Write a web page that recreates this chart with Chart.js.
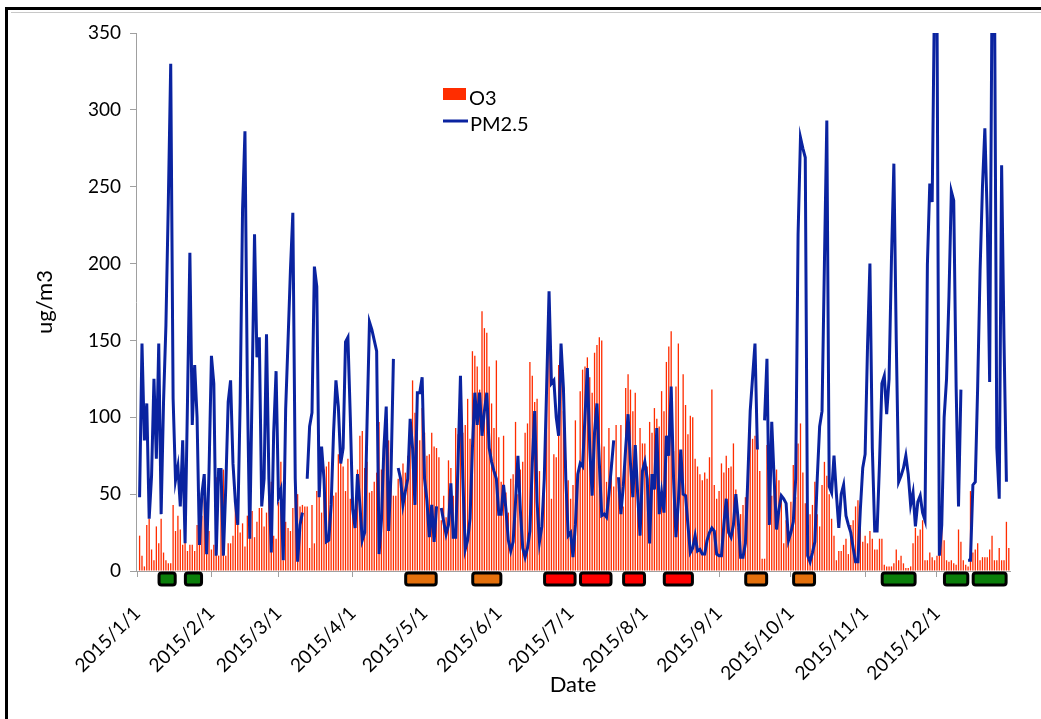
<!DOCTYPE html>
<html>
<head>
<meta charset="utf-8">
<script src="https://cdn.jsdelivr.net/npm/chart.js@4.4.1/dist/chart.umd.min.js"></script>
<style>
  html, body { margin: 0; padding: 0; background: #ffffff; }
  #wrap { position: relative; width: 1041px; height: 719px; }
  canvas { display: block; }
</style>
</head>
<body>
<div id="wrap"><canvas id="chart" width="1041" height="719"></canvas></div>
<script>
// ---- daily categories for 2015 ----
const year = 2015;
const monthLengths = [31, 28, 31, 30, 31, 30, 31, 31, 30, 31, 30, 31];
const dayLabels = [];
monthLengths.forEach((len, m) => {
  for (let d = 1; d <= len; d++) dayLabels.push(year + '/' + (m + 1) + '/' + d);
});

// labels shown on the date axis
const monthTickLabels = ['2015/1/1', '2015/2/1', '2015/3/1', '2015/4/1', '2015/5/1', '2015/6/1',
  '2015/7/1', '2015/8/1', '2015/9/1', '2015/10/1', '2015/11/1', '2015/12/1'];

// O3 daily values (ug/m3), one row per month
const o3Values = [
  null, 23, 10, 3, 30, 34, 14, 7, 29, 18, 34, 12, 7, 5, 5, 43, 26, 36, 27, 17, 19, 13, 17, 17, 13, 30, 25, 36, 48, 26, 26,
  14, 17, 61, 10, 61, 66, 10, 18, 18, 23, 51, 35, 25, 31, 16, 36, 38, 39, 22, 32, 41, 41, 29, 38, 61, 58, 23, 21,
  45, 71, 7, 32, 28, 26, 41, 72, 50, 42, 43, 42, 42, 15, 43, 18, 52, 49, 38, 66, 68, 71, 42, 49, 51, 76, 71, 68, 52, 73, 47,
  48, 36, 66, 88, 91, 67, 71, 51, 52, 58, 64, 97, 66, 75, 87, 85, 71, 49, 49, 60, 60, 70, 64, 75, 96, 124, 103, 110, 85, 106,
  90, 75, 76, 90, 81, 80, 74, 33, 49, 35, 72, 67, 49, 93, 89, 103, 90, 95, 112, 86, 143, 140, 133, 118, 169, 158, 155, 133, 109, 93, 137,
  87, 58, 88, 51, 38, 60, 63, 97, 50, 66, 71, 90, 96, 136, 127, 110, 112, 65, 30, 67, 128, 148, 47, 76, 74, 134, 124, 104, 72, 59,
  47, 56, 98, 63, 117, 131, 133, 139, 126, 116, 142, 147, 152, 150, 81, 58, 93, 71, 55, 95, 55, 95, 42, 119, 128, 118, 104, 116, 53, 93, 83,
  83, 68, 97, 90, 106, 99, 94, 117, 104, 136, 146, 156, 78, 120, 148, 70, 128, 108, 89, 101, 100, 73, 68, 63, 59, 64, 60, 74, 118, 56, 47,
  52, 70, 64, 75, 67, 68, 83, 53, 28, 37, 43, 48, 56, 95, 86, 88, 89, 65, 8, 8, 82, 52, 49, 60, 66, 59, 47, 18, 33, 26,
  45, 69, 48, 83, 96, 64, 44, 19, 37, 43, 58, 37, 29, 56, 71, 62, 50, 34, 23, 7, 13, 13, 17, 21, 11, 30, 33, 42, 46, 28, 19,
  23, 18, 26, 21, 14, 14, 21, 21, 4, 3, 3, 3, 5, 14, 7, 10, 5, 2, 2, 3, 18, 28, 23, 27, 33, 7, 7, 12, 9, 7,
  10, 41, 34, 20, 7, 6, 7, 5, 4, 27, 19, 7, 4, 3, 52, 12, 14, 18, 7, 9, 9, 9, 14, 23, 7, 7, 15, 7, 7, 32, 15
];

// PM2.5 daily values (ug/m3); null marks days without data
const pm25Values = [
  null, 48, 148, 85, 109, 34, 62, 125, 73, 148, 37, 110, 160, 240, 330, 112, 59, 68, 42, 85, 18, 110, 207, 95, 134, 100, 17, 50, 63, 11, 65,
  140, 122, 10, 66, 66, 10, 55, 110, 124, 70, 45, 30, 110, 235, 286, 120, 21, 120, 219, 139, 152, 42, 60, 154, 60, 12, 90, 130,
  48, 53, 7, 105, 150, 196, 233, 60, 6, 30, 38, null, 60, 94, 103, 198, 185, 48, 81, 60, 19, 20, 43, 90, 124, 107, 70, 80, 149, 152, 100,
  40, 28, 63, 43, 20, 25, 97, 162, 157, 150, 143, 11, 33, 79, 107, 26, 63, 138, null, 67, 60, 43, 52, 60, 99, 80, 43, 116, 116, 126,
  60, 46, 22, 43, 19, 42, null, 41, 32, 24, 30, 57, 22, 22, 70, 127, 60, 14, 20, 34, 80, 116, 95, 116, 88, 104, 116, 80, 71, 65, 60,
  37, 37, 56, 40, 20, 13, 19, 45, 75, 40, 15, 9, 15, 26, 70, 104, 45, 19, 29, 60, 120, 182, 122, 124, 100, 88, 148, 119, 60, 23,
  25, 9, 30, 63, 70, 68, 100, 132, 80, 49, 90, 109, 70, 36, 37, 35, 50, 67, 85, null, 61, 37, 55, 80, 102, 70, 48, 82, 50, 23, 65,
  71, 60, 18, 63, 53, 93, 37, 51, 38, 88, 75, 120, 60, 22, 45, 79, 50, 49, 30, 12, 15, 23, 13, 14, 11, 11, 20, 25, 28, 26, 11,
  10, 10, 30, 47, 25, 22, 30, 50, 33, 9, 9, 18, 60, 104, 126, 148, 79, null, null, 98, 138, 30, 97, 60, 27, 40, 49, 47, 44, 20,
  25, 32, 60, 219, 282, 275, 269, 10, 6, 12, 19, 60, 94, 104, 200, 293, 55, 51, 75, 50, 28, 50, 56, 36, 30, 25, 15, 6, 6, 40, 67,
  76, 146, 200, 80, 26, 26, 70, 122, 127, 102, 125, 203, 265, 150, 58, 62, 67, 75, 63, 43, 51, 29, 45, 49, 38, 33, 199, 252, 240, 380,
  370, 10, 30, 100, 125, 178, 247, 241, 120, 42, 118, null, null, 7, 7, 56, 58, 120, 195, 250, 288, 230, 123, 380, 390, 80, 47, 264, 150, 58, null
];

// pollution episodes marked under the date axis
const periodStart = ['2015/1/10', '2015/1/21', '2015/4/23', '2015/5/21', '2015/6/20', '2015/7/5', '2015/7/23',
  '2015/8/9', '2015/9/12', '2015/10/2', '2015/11/8', '2015/12/4', '2015/12/16'];
const periodEnd = ['2015/1/17', '2015/1/28', '2015/5/6', '2015/6/2', '2015/7/3', '2015/7/18', '2015/8/1',
  '2015/8/21', '2015/9/21', '2015/10/11', '2015/11/22', '2015/12/14', '2015/12/30'];
const periodLevel = ['green', 'green', 'orange', 'orange', 'red', 'red', 'red',
  'red', 'orange', 'orange', 'green', 'green', 'green'];

const yTickValues = [0, 50, 100, 150, 200, 250, 300, 350];

// ---- styling ----
const FONT = 'Lato, "Open Sans", "Liberation Sans", sans-serif';
const AXIS_GRAY = '#a0a0a0';
const O3_COLOR = '#ff2d00';
const PM_COLOR = '#0a23a0';
const LEVEL_COLORS = { green: '#0b7f0b', orange: '#e4700c', red: '#ff0000' };

const monthStartIdx = new Set(monthTickLabels.map(l => dayLabels.indexOf(l)));

// black frame around the figure
const framePlugin = {
  id: 'frame',
  beforeDraw(chart) {
    const ctx = chart.ctx;
    ctx.save();
    ctx.fillStyle = '#ffffff';
    ctx.fillRect(0, 0, chart.width, chart.height);
    ctx.fillStyle = '#000000';
    ctx.fillRect(5, 7, chart.width - 5, 3);
    ctx.fillRect(5, 7, 3, chart.height - 7);
    ctx.fillStyle = '#c8c8c8';
    ctx.fillRect(11, 12, chart.width - 11, 1);
    ctx.restore();
  }
};

// coloured episode boxes below the x axis
const periodPlugin = {
  id: 'periods',
  afterDraw(chart) {
    const { ctx, chartArea, scales } = chart;
    const x = scales.x;
    const half = (x.getPixelForValue(1) - x.getPixelForValue(0)) / 2;
    ctx.save();
    periodStart.forEach((s, i) => {
      const a = x.getPixelForValue(dayLabels.indexOf(s)) - half;
      const b = x.getPixelForValue(dayLabels.indexOf(periodEnd[i])) + half;
      const top = chartArea.bottom + 0.5;
      const h = 15;
      ctx.beginPath();
      ctx.roundRect(a + 1.5, top + 1.5, b - a - 3, h - 3, 2.5);
      ctx.fillStyle = LEVEL_COLORS[periodLevel[i]];
      ctx.fill();
      ctx.lineWidth = 3;
      ctx.strokeStyle = '#000000';
      ctx.stroke();
    });
    ctx.restore();
  }
};

// series key drawn inside the plot
const keyPlugin = {
  id: 'seriesKey',
  afterDraw(chart) {
    const { ctx, chartArea } = chart;
    const bars = chart.data.datasets.find(d => d.type === 'bar');
    const line = chart.data.datasets.find(d => d.type === 'line');
    const x0 = chartArea.left + 307;
    const y0 = chartArea.top + 55;
    ctx.save();
    ctx.fillStyle = bars.backgroundColor;
    ctx.fillRect(x0, y0, 23, 12);
    ctx.strokeStyle = line.borderColor;
    ctx.lineWidth = 3;
    ctx.beginPath();
    ctx.moveTo(x0, y0 + 33);
    ctx.lineTo(x0 + 25, y0 + 33);
    ctx.stroke();
    ctx.fillStyle = '#000000';
    ctx.font = '20px ' + FONT;
    ctx.textBaseline = 'alphabetic';
    ctx.fillText(bars.label, x0 + 26, y0 + 17);
    ctx.fillText(line.label, x0 + 27, y0 + 43);
    ctx.restore();
  }
};

new Chart(document.getElementById('chart'), {
  type: 'bar',
  data: {
    labels: dayLabels,
    datasets: [
      {
        type: 'line',
        label: 'PM2.5',
        data: pm25Values,
        borderColor: PM_COLOR,
        backgroundColor: PM_COLOR,
        borderWidth: 3,
        pointRadius: 0,
        tension: 0,
        spanGaps: false,
        order: 0
      },
      {
        type: 'bar',
        label: 'O3',
        data: o3Values,
        backgroundColor: O3_COLOR,
        borderWidth: 0,
        barPercentage: 0.55,
        categoryPercentage: 1.0,
        order: 1
      }
    ]
  },
  options: {
    responsive: false,
    animation: false,
    devicePixelRatio: 1,
    layout: { padding: { left: 0, right: 31, top: 33, bottom: 0 } },
    plugins: {
      legend: { display: false },
      tooltip: { enabled: false }
    },
    scales: {
      x: {
        type: 'category',
        offset: true,
        grid: {
          offset: false,
          drawOnChartArea: false,
          drawTicks: true,
          tickLength: 6,
          color: ctx => monthStartIdx.has(ctx.index) ? AXIS_GRAY : 'rgba(0,0,0,0)'
        },
        border: { display: true, color: AXIS_GRAY, width: 1 },
        ticks: {
          autoSkip: false,
          minRotation: 45,
          maxRotation: 45,
          padding: 25,
          color: '#000000',
          font: { family: FONT, size: 19 },
          callback: (value, index) => monthStartIdx.has(index) ? dayLabels[index] : ''
        },
        title: {
          display: true,
          text: 'Date',
          color: '#000000',
          font: { family: FONT, size: 22 },
          padding: { top: 0, bottom: 21 }
        },
        afterFit: scale => {
          scale.height = 148;
          scale.paddingLeft = 0;
          scale.paddingRight = 0;
        }
      },
      y: {
        type: 'linear',
        min: 0,
        max: 350,
        grid: {
          drawOnChartArea: false,
          drawTicks: true,
          tickLength: 6,
          color: AXIS_GRAY
        },
        border: { display: true, color: AXIS_GRAY, width: 1 },
        afterBuildTicks: scale => { scale.ticks = yTickValues.map(v => ({ value: v })); },
        ticks: {
          padding: 9,
          color: '#000000',
          font: { family: FONT, size: 19 }
        },
        title: {
          display: true,
          text: 'ug/m3',
          color: '#000000',
          font: { family: FONT, size: 22 },
          padding: { top: 32, bottom: 0 }
        },
        afterFit: scale => { scale.width = 136; }
      }
    }
  },
  plugins: [framePlugin, periodPlugin, keyPlugin]
});
</script>
</body>
</html>
